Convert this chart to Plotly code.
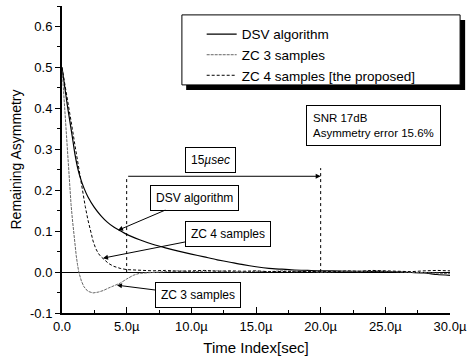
import plotly.graph_objects as go

# ---------------- data (time in microseconds) ----------------
dsv_t = [0, 0.2, 0.4, 0.6, 0.8, 1.0, 1.2, 1.4, 1.7, 2.0, 2.5, 3.0, 3.5, 4.0, 4.5, 5.0,
         6, 7, 8, 9, 10, 11, 12, 13, 14, 15, 16, 17, 18, 19, 20, 21, 22, 23, 24, 25,
         26, 27, 28, 29, 30]
dsv_v = [0.5, 0.455, 0.41, 0.37, 0.33, 0.288, 0.256, 0.232, 0.205, 0.184, 0.158, 0.138,
         0.122, 0.110, 0.101, 0.092, 0.079, 0.068, 0.059, 0.051, 0.044, 0.037, 0.030,
         0.024, 0.018, 0.013, 0.009, 0.007, 0.005, 0.004, 0.003, 0.003, 0.002, 0.002,
         0.001, 0.001, 0.000, -0.001, -0.002, -0.006, -0.008]

zc3_t = [0, 0.1, 0.2, 0.3, 0.4, 0.5, 0.6, 0.7, 0.8, 0.9, 1.0, 1.1, 1.2, 1.3, 1.5, 1.7,
         2.0, 2.4, 2.8, 3.2, 3.6, 4.0, 4.5, 5.0, 5.5, 6.0, 7, 8, 9, 10, 11, 12, 13, 14,
         15, 16, 17, 18, 19, 20, 21, 22, 23, 24, 25, 26, 27, 28, 29, 30]
zc3_v = [0.5, 0.45, 0.40, 0.35, 0.30, 0.25, 0.205, 0.165, 0.13, 0.095, 0.065, 0.04,
         0.018, 0.0, -0.022, -0.036, -0.047, -0.051, -0.049, -0.045, -0.039, -0.034,
         -0.027, -0.017, -0.008, -0.003, -0.001, 0.002, 0.003, 0.001, 0.002, 0.003,
         0.001, 0.0, 0.002, 0.001, 0.003, 0.001, 0.002, 0.0, 0.001, 0.002, 0.001,
         0.003, 0.002, 0.001, -0.001, -0.002, -0.003, -0.004]

zc4_t = [0, 0.2, 0.4, 0.6, 0.8, 1.0, 1.2, 1.4, 1.6, 1.8, 2.0, 2.2, 2.4, 2.6, 2.8, 3.0,
         3.3, 3.6, 4.0, 4.5, 5.0, 6, 7, 8, 9, 10, 11, 12, 13, 14, 15, 16, 17, 18, 19,
         20, 21, 22, 23, 24, 25, 26, 27, 28, 29, 30]
zc4_v = [0.5, 0.465, 0.43, 0.39, 0.35, 0.31, 0.27, 0.232, 0.195, 0.16, 0.128, 0.10,
         0.076, 0.058, 0.046, 0.038, 0.029, 0.021, 0.014, 0.009, 0.006, 0.004, 0.003,
         0.004, 0.002, 0.003, 0.004, 0.002, 0.003, 0.002, 0.003, 0.001, 0.002, 0.002,
         0.001, 0.002, 0.001, 0.003, 0.002, 0.004, 0.003, 0.002, 0.001, 0.003, 0.004,
         0.003]

series_names = ["DSV algorithm", "ZC 3 samples", "ZC 4 samples [the proposed]"]

x_tickvals = [0, 5, 10, 15, 20, 25, 30]
x_ticktext = ["0.0", "5.0\u00b5", "10.0\u00b5", "15.0\u00b5", "20.0\u00b5", "25.0\u00b5", "30.0\u00b5"]
y_tickvals = [-0.1, 0.0, 0.1, 0.2, 0.3, 0.4, 0.5, 0.6]
y_ticktext = ["-0.1", "0.0", "0.1", "0.2", "0.3", "0.4", "0.5", "0.6"]

span_start, span_end, span_level = 5, 20, 0.234

FONT = "Liberation Sans, Arial, Helvetica, sans-serif"

fig = go.Figure()
fig.add_trace(go.Scatter(x=dsv_t, y=dsv_v, mode="lines", name=series_names[0],
                         line=dict(color="black", width=1.2, shape="spline", smoothing=0.6)))
fig.add_trace(go.Scatter(x=zc3_t, y=zc3_v, mode="lines", name=series_names[1],
                         line=dict(color="#666666", width=1, dash="3px,1px")))
fig.add_trace(go.Scatter(x=zc4_t, y=zc4_v, mode="lines", name=series_names[2],
                         line=dict(color="black", width=1, dash="3px,2px")))

# dotted vertical markers and the 15 usec span arrow
fig.add_shape(type="line", x0=span_start, x1=span_start, y0=0, y1=span_level,
              line=dict(color="black", width=1, dash="dot"))
fig.add_shape(type="line", x0=span_end, x1=span_end, y0=0, y1=span_level + 0.02,
              line=dict(color="black", width=1, dash="dot"))
fig.add_annotation(x=span_end, y=span_level, ax=span_start, ay=span_level,
                   xref="x", yref="y", axref="x", ayref="y", text="",
                   showarrow=True, arrowhead=2, arrowsize=1, arrowwidth=1, arrowcolor="black")
fig.add_annotation(x=11.5, y=0.273, xref="x", yref="y", text="15<i>\u00b5sec</i>",
                   showarrow=False, bordercolor="black", borderwidth=1, borderpad=5,
                   bgcolor="white", font=dict(size=12, color="black", family=FONT))

# callout boxes with arrows
callouts = [
    ("DSV algorithm", 4.33, 0.102, 10.25, 0.182),
    ("ZC 4 samples", 3.17, 0.034, 12.8, 0.094),
    ("ZC 3 samples", 4.25, -0.032, 10.5, -0.057),
]
for txt, x, y, ax, ay in callouts:
    fig.add_annotation(x=x, y=y, ax=ax, ay=ay, xref="x", yref="y", axref="x", ayref="y",
                       text=txt, showarrow=True, arrowhead=2, arrowsize=1, arrowwidth=1,
                       arrowcolor="black", bordercolor="black", borderwidth=1, borderpad=5,
                       bgcolor="white", font=dict(size=12, color="black", family=FONT))

# SNR info box
fig.add_annotation(x=0.802, y=0.612, xref="paper", yref="paper",
                   xanchor="center", yanchor="middle",
                   text="SNR 17dB<br>Asymmetry error 15.6%", align="left",
                   showarrow=False, bordercolor="black", borderwidth=1, borderpad=6,
                   bgcolor="white", font=dict(size=11.5, color="black", family=FONT))

# legend frame with drop shadow
fig.add_shape(type="rect", xref="paper", yref="paper", x0=0.320, x1=1.039, y0=0.726, y1=0.954,
              fillcolor="black", line=dict(width=0), layer="above")
fig.add_shape(type="rect", xref="paper", yref="paper", x0=0.309, x1=1.026, y0=0.743, y1=0.971,
              fillcolor="white", line=dict(color="black", width=1), layer="above")

fig.update_layout(
    width=473, height=364,
    margin=dict(l=62, r=23, t=6, b=51),
    paper_bgcolor="white", plot_bgcolor="white",
    font=dict(family=FONT, color="black", size=12),
    showlegend=True,
    legend=dict(x=0.36, y=0.958, xanchor="left", yanchor="top",
                bgcolor="rgba(0,0,0,0)", borderwidth=0,
                font=dict(size=13.5, color="black", family=FONT)),
    xaxis=dict(range=[0, 30], tickvals=x_tickvals, ticktext=x_ticktext,
               ticks="inside", ticklen=6, tickwidth=1, tickcolor="black",
               minor=dict(dtick=2.5, ticks="inside", ticklen=3, tickcolor="black"),
               showline=True, linecolor="black", linewidth=2, showgrid=False,
               zeroline=False, tickfont=dict(size=13),
               title=dict(text="Time Index[sec]", font=dict(size=15), standoff=10)),
    yaxis=dict(range=[-0.1, 0.65], tickvals=y_tickvals, ticktext=y_ticktext,
               ticks="outside", ticklen=5, tickwidth=1, tickcolor="black",
               minor=dict(dtick=0.05, ticks="outside", ticklen=3, tickcolor="black"),
               showline=True, linecolor="black", linewidth=2, showgrid=False,
               zeroline=True, zerolinecolor="black", zerolinewidth=1,
               tickfont=dict(size=13),
               title=dict(text="Remaining Asymmetry", font=dict(size=14), standoff=5)),
)

fig.write_html("out.html")
